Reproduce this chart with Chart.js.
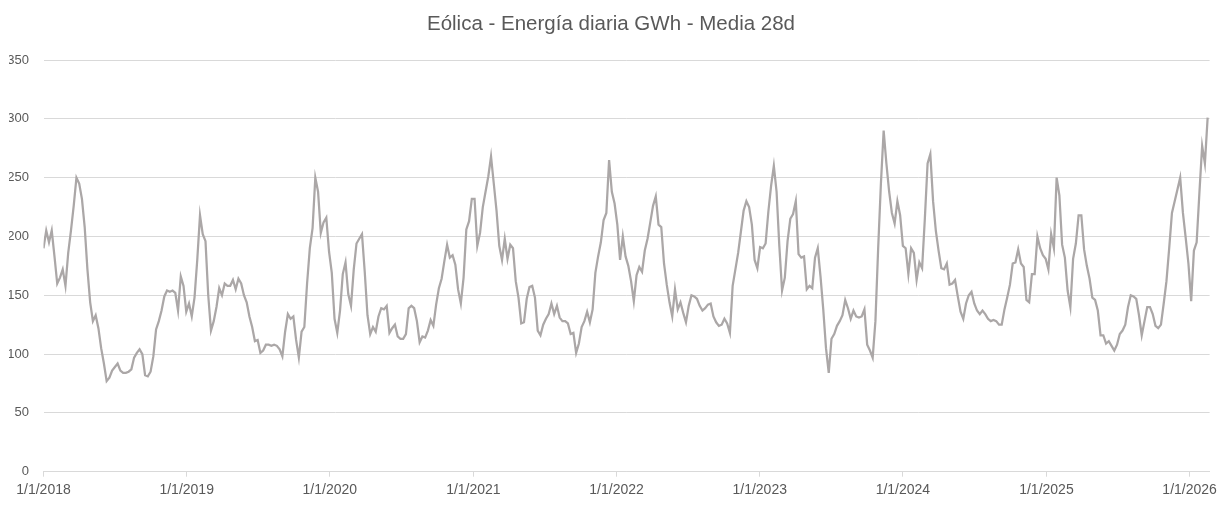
<!DOCTYPE html>
<html>
<head>
<meta charset="utf-8">
<script src="https://cdn.jsdelivr.net/npm/chart.js@4.4.1/dist/chart.umd.min.js"></script>
<style>
  html, body { margin: 0; padding: 0; background: #ffffff; }
  #wrap { width: 1222px; height: 505px; }
</style>
</head>
<body>
<div id="wrap"><canvas id="c" width="1222" height="505"></canvas></div>
<script>
// ---- DATA ----
const chartTitle = "Eólica - Energía diaria GWh - Media 28d";
const seriesStart = "2018-01-01";   // first sample date
const sampleStepDays = 7;           // weekly samples of the 28-day mean
const windGWh = [
  190,205,195,205,183,160,165,172,158,186,
  205,226,250,245,232,208,172,144,128,133,
  122,105,92,77,80,86,89,92,86,84,
  84,85,87,97,101,104,100,82,81,85,
  98,121,128,137,149,154,153,154,152,137,
  166,158,136,143,132,148,180,
  218,202,196,150,120,128,140,156,150,160,
  158,158,163,155,164,160,150,144,132,123,
  111,112,101,103,108,108,107,108,107,104,
  98,119,134,130,132,112,97,119,123,160,
  190,207,250,238,203,212,216,187,169,130,
  118,137,168,178,151,141,172,194,198,202,
  170,133,117,123,119,132,139,138,141,
  118,122,125,115,113,113,117,139,141,139,
  128,110,115,114,120,129,124,142,156,164,
  179,193,182,184,176,155,143,165,206,213,
  232,232,192,203,225,238,251,268,245,222,
  192,180,198,181,193,190,162,148,126,127,
  147,157,158,148,120,116,125,130,134,143,
  134,141,131,128,128,126,117,118,101,
  109,123,128,136,127,138,169,183,195,214,
  220,265,238,228,210,180,200,183,175,162,
  145,167,174,170,188,198,212,226,234,210,
  208,177,159,144,132,155,138,144,135,127,
  141,150,149,147,141,137,139,142,143,132,
  127,124,125,130,126,118,158,172,186,204,
  222,230,225,210,180,173,191,190,194,
  221,243,260,238,192,154,165,196,215,219,
  230,185,182,183,155,158,156,182,190,166,
  138,105,84,113,117,124,128,133,146,139,
  130,137,132,131,132,138,108,103,97,128,
  190,245,290,262,238,220,211,230,218,192,
  190,168,190,186,163,178,173,215,262,270,
  230,205,188,173,172,177,159,160,163,
  149,136,130,143,150,153,143,137,134,137,
  134,130,128,129,128,125,125,138,148,159,
  177,178,189,177,174,146,144,168,168,200,
  190,184,181,172,202,190,250,235,193,182,
  154,140,181,194,218,218,189,175,164,148,
  146,137,116,116,109,111,107,103,108,117,
  120,125,140,150,149,147,133,116,128,140,
  140,134,124,122,125,143,162,190,220,230,
  240,250,220,199,177,145,188,195,237,277,
  262,301
];
const yearTickDates = ["2018-01-01","2019-01-01","2020-01-01","2021-01-01","2022-01-01",
                       "2023-01-01","2024-01-01","2025-01-01","2026-01-01"];
const yearTickLabels = ["1/1/2018","1/1/2019","1/1/2020","1/1/2021","1/1/2022",
                        "1/1/2023","1/1/2024","1/1/2025","1/1/2026"];
const axisEndDate = "2026-02-21";
const yMin = 0, yMax = 350, yStep = 50;

// ---- BUILD ----
const DAY = 86400000;
const t0 = Date.parse(seriesStart + "T00:00:00Z");
const dayOf = s => Math.round((Date.parse(s + "T00:00:00Z") - t0) / DAY);
const points = windGWh.map((v, i) => ({ x: i * sampleStepDays, y: v }));
const tickDays = yearTickDates.map(dayOf);
const labelByDay = {};
tickDays.forEach((d, i) => { labelByDay[d] = yearTickLabels[i]; });

const FONT = "'Liberation Sans', Arial, sans-serif";
const TXT = "#595959";
const GRID = "#d9d9d9";

new Chart(document.getElementById("c"), {
  type: "line",
  data: {
    datasets: [{
      data: points,
      borderColor: "#aba7a7",
      borderWidth: 2.25,
      pointRadius: 0,
      tension: 0,
      fill: false
    }]
  },
  options: {
    responsive: false,
    animation: false,
    devicePixelRatio: 1,
    layout: { padding: { left: 9, right: 9, top: 0, bottom: 0 } },
    plugins: {
      legend: { display: false },
      tooltip: { enabled: false },
      title: {
        display: true,
        text: chartTitle,
        color: TXT,
        font: { family: FONT, size: 20.5, weight: "normal" },
        padding: { top: 12, bottom: 23.4 }
      }
    },
    scales: {
      x: {
        type: "linear",
        min: 0,
        max: dayOf(axisEndDate),
        afterBuildTicks: s => { s.ticks = tickDays.map(v => ({ value: v })); },
        afterFit: s => { s.height = 33.3; },
        grid: { drawOnChartArea: false, drawTicks: true, tickLength: 5, color: GRID },
        border: { display: true, color: GRID, width: 1 },
        ticks: {
          autoSkip: false, maxRotation: 0, minRotation: 0, padding: 5,
          color: TXT, font: { family: FONT, size: 14 },
          callback: v => labelByDay[v] ?? ""
        }
      },
      y: {
        min: yMin, max: yMax,
        afterFit: s => { s.width = 34.5; },
        grid: { color: GRID, drawTicks: false, lineWidth: 1 },
        border: { display: false },
        ticks: {
          stepSize: yStep, padding: 14.5,
          color: TXT, font: { family: FONT, size: 13 }
        }
      }
    }
  }
});
</script>
</body>
</html>
